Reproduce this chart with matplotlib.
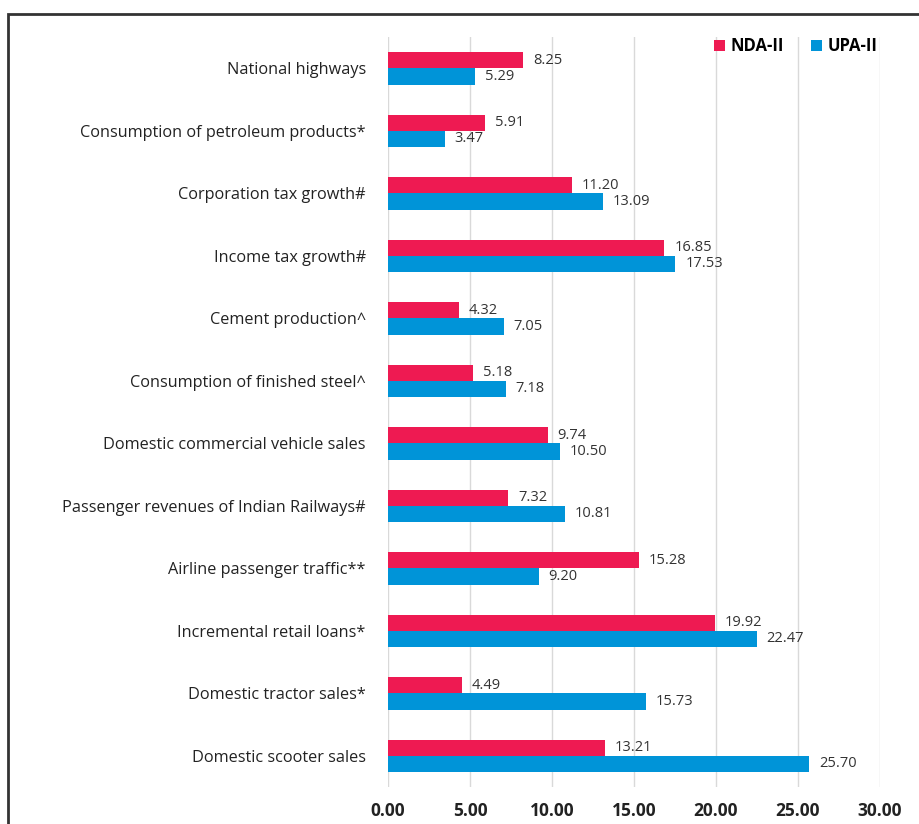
import numpy as np
import matplotlib.pyplot as plt
from matplotlib.patches import Rectangle

categories = ["National highways",
              "Consumption of petroleum products*",
              "Corporation tax growth#",
              "Income tax growth#",
              "Cement production^",
              "Consumption of finished steel^",
              "Domestic commercial vehicle sales",
              "Passenger revenues of Indian Railways#",
              "Airline passenger traffic**",
              "Incremental retail loans*",
              "Domestic tractor sales*",
              "Domestic scooter sales"]
nda = [8.25, 5.91, 11.20, 16.85, 4.32, 5.18, 9.74, 7.32, 15.28, 19.92, 4.49, 13.21]
upa = [5.29, 3.47, 13.09, 17.53, 7.05, 7.18, 10.50, 10.81, 9.20, 22.47, 15.73, 25.70]
xticks = [0, 5, 10, 15, 20, 25, 30]

plt.rcParams['font.family'] = ['Open Sans', 'DejaVu Sans']

fig = plt.figure(figsize=(9.19, 8.24), dpi=100)
ax = fig.add_axes([388/919, 1-787/824, (880-388)/919, (787-37)/824])

# outer frame, cut off at right and bottom like the source
fig.patches.append(Rectangle((8/919, -0.1), 1.2, 1.1 - 14/824, transform=fig.transFigure,
                             fill=False, edgecolor='#333333', linewidth=2))

n = len(categories)
y = np.arange(n)
h = 0.26
red = '#EE1A52'
blue = '#0094D8'
ax.barh(y - h/2, nda, h, color=red, label='NDA-II', zorder=3)
ax.barh(y + h/2, upa, h, color=blue, label='UPA-II', zorder=3)

for yy, v in zip(y - h/2, nda):
    ax.text(v + 0.6, yy, f"{v:.2f}", va='center', ha='left', fontsize=10.5, color='#333333')
for yy, v in zip(y + h/2, upa):
    ax.text(v + 0.6, yy, f"{v:.2f}", va='center', ha='left', fontsize=10.5, color='#333333')

ax.set_ylim(n - 0.5, -0.5)
ax.set_xlim(0, 30)
ax.set_yticks(y)
ax.set_yticklabels(categories, fontsize=11.7, color='#222222')
ax.set_xticks(xticks)
ax.set_xticklabels([f"{t:.2f}" for t in xticks], fontsize=12.5, fontweight='bold', color='#222222')
ax.tick_params(length=0)
ax.tick_params(axis='y', pad=16)
ax.tick_params(axis='x', pad=11)
ax.grid(axis='x', color='#d9d9d9', linewidth=1, zorder=0)
for s in ax.spines.values():
    s.set_visible(False)

ax.legend(loc='upper right', bbox_to_anchor=(1.025, 1.02), ncol=2, frameon=False,
          handlelength=0.65, handleheight=0.65, columnspacing=1.6, handletextpad=0.35,
          prop={'weight': 'bold', 'size': 12})

fig.savefig('out.png', dpi=100)
